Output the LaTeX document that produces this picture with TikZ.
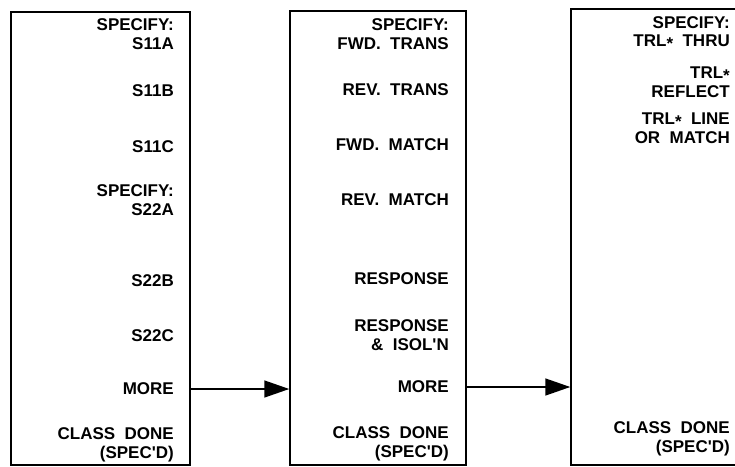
\documentclass[tikz,border=0pt]{standalone}
\usepackage{fontspec}
\setmainfont{Liberation Sans}
\usetikzlibrary{arrows.meta}

\tikzset{
  panel/.style={draw,line width=1.5pt,inner sep=0pt},
  softkey/.style={anchor=east,align=right,inner sep=0pt,
    font=\fontsize{17}{18.5}\selectfont\bfseries},
  flow/.style={line width=1.5pt,-{Triangle[length=25pt,width=17pt]}}
}

\begin{document}
\begin{tikzpicture}[x=1pt,y=-1pt]
    \clip (0,0) rectangle (735,466);

    % Menu boxes
    \node[panel,minimum width=179pt,minimum height=453pt] (boxA) at (100.5,238.5) {};
    \node[panel,minimum width=176pt,minimum height=454pt] (boxB) at (378,238) {};
    \node[panel,minimum width=190pt,minimum height=456pt] (boxC) at (666,237) {};

    % First menu
    \node[softkey] (a1) at (174,34) {SPECIFY:\\S11A};
    \node[softkey] (a2) at (174,91) {S11B};
    \node[softkey] (a3) at (174,147) {S11C};
    \node[softkey] (a4) at (174,200) {SPECIFY:\\S22A};
    \node[softkey] (a5) at (174,281) {S22B};
    \node[softkey] (a6) at (174,336) {S22C};
    \node[softkey] (a7) at (174,389) {MORE};
    \node[softkey] (a8) at (174,445) {CLASS~~DONE\\(SPEC\textquotesingle D)};

    % Second menu
    \node[softkey] (b1) at (449,34) {SPECIFY:\\FWD.~~TRANS};
    \node[softkey] (b2) at (449,90) {REV.~~TRANS};
    \node[softkey] (b3) at (449,145) {FWD.~~MATCH};
    \node[softkey] (b4) at (449,200) {REV.~~MATCH};
    \node[softkey] (b5) at (449,279) {RESPONSE};
    \node[softkey] (b6) at (449,335) {RESPONSE\\\&~~ISOL\textquotesingle N};
    \node[softkey] (b7) at (449,387) {MORE};
    \node[softkey] (b8) at (449,444) {CLASS~~DONE\\(SPEC\textquotesingle D)};

    % Third menu
    \node[softkey] (c1) at (730,33) {SPECIFY:\\TRL\raisebox{-3pt}{*}~~THRU};
    \node[softkey] (c2) at (730,82) {TRL\raisebox{-3pt}{*}\\REFLECT};
    \node[softkey] (c3) at (730,128) {TRL\raisebox{-3pt}{*}~~LINE\\OR~~MATCH};
    \node[softkey] (c4) at (730,439) {CLASS~~DONE\\(SPEC\textquotesingle D)};

    % MORE keys lead on
    \draw[flow] (boxA.east |- a7) -- (boxB.west |- a7);
    \draw[flow] (boxB.east |- b7) -- (boxC.west |- b7);
\end{tikzpicture}
\end{document}
